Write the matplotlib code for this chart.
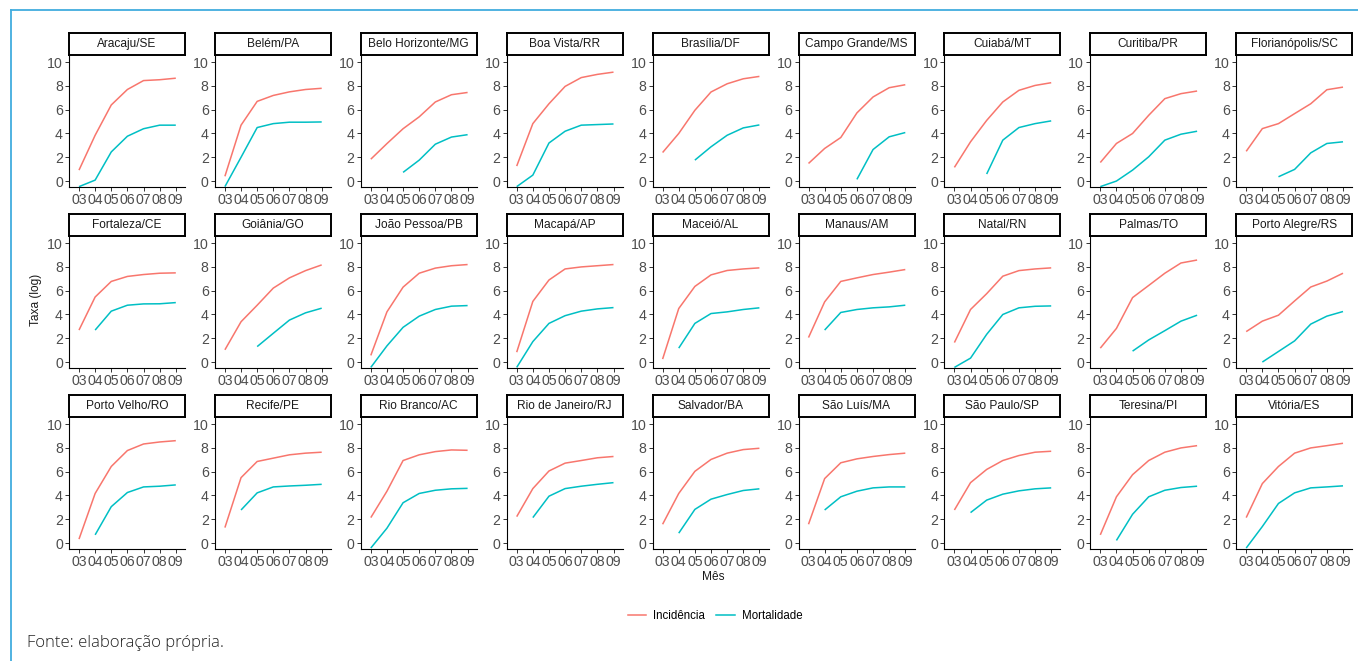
import matplotlib
matplotlib.use("Agg")
import matplotlib.pyplot as plt
from matplotlib.lines import Line2D
import numpy as np

months = ["03", "04", "05", "06", "07", "08", "09"]

cities = ["Aracaju/SE", "Belém/PA", "Belo Horizonte/MG", "Boa Vista/RR", "Brasília/DF",
          "Campo Grande/MS", "Cuiabá/MT", "Curitiba/PR", "Florianópolis/SC",
          "Fortaleza/CE", "Goiânia/GO", "João Pessoa/PB", "Macapá/AP", "Maceió/AL",
          "Manaus/AM", "Natal/RN", "Palmas/TO", "Porto Alegre/RS",
          "Porto Velho/RO", "Recife/PE", "Rio Branco/AC", "Rio de Janeiro/RJ",
          "Salvador/BA", "São Luís/MA", "São Paulo/SP", "Teresina/PI", "Vitória/ES"]

N = None
incidencia = [
    [0.92, 3.85, 6.40, 7.70, 8.45, 8.52, 8.65],
    [0.40, 4.70, 6.70, 7.20, 7.50, 7.70, 7.80],
    [1.84, 3.15, 4.40, 5.40, 6.65, 7.26, 7.45],
    [1.26, 4.83, 6.50, 7.96, 8.70, 8.97, 9.16],
    [2.40, 4.00, 5.95, 7.49, 8.18, 8.60, 8.80],
    [1.48, 2.74, 3.66, 5.73, 7.07, 7.85, 8.10],
    [1.15, 3.30, 5.10, 6.65, 7.63, 8.04, 8.27],
    [1.56, 3.16, 4.00, 5.53, 6.93, 7.35, 7.57],
    [2.50, 4.41, 4.83, 5.67, 6.50, 7.68, 7.90],
    [2.69, 5.47, 6.78, 7.20, 7.36, 7.47, 7.50],
    [1.03, 3.39, 4.78, 6.22, 7.08, 7.69, 8.17],
    [0.56, 4.22, 6.30, 7.47, 7.90, 8.10, 8.20],
    [0.83, 5.10, 6.90, 7.83, 8.00, 8.10, 8.20],
    [0.25, 4.50, 6.36, 7.33, 7.70, 7.83, 7.92],
    [2.06, 5.06, 6.78, 7.08, 7.36, 7.56, 7.78],
    [1.64, 4.42, 5.75, 7.22, 7.69, 7.83, 7.92],
    [1.17, 2.83, 5.42, 6.44, 7.47, 8.33, 8.58],
    [2.56, 3.44, 3.94, 5.14, 6.31, 6.81, 7.47],
    [0.33, 4.17, 6.44, 7.78, 8.33, 8.50, 8.61],
    [1.30, 5.50, 6.86, 7.14, 7.42, 7.56, 7.64],
    [2.14, 4.36, 6.94, 7.42, 7.69, 7.83, 7.80],
    [2.22, 4.58, 6.06, 6.72, 6.94, 7.17, 7.28],
    [1.58, 4.17, 6.03, 7.03, 7.56, 7.86, 7.97],
    [1.58, 5.42, 6.75, 7.08, 7.28, 7.44, 7.56],
    [2.78, 5.08, 6.19, 6.94, 7.36, 7.64, 7.72],
    [0.69, 3.89, 5.75, 6.94, 7.64, 8.00, 8.19],
    [2.14, 5.00, 6.44, 7.56, 8.00, 8.19, 8.39],
]

mortalidade = [
    [-0.47, 0.08, 2.45, 3.77, 4.40, 4.70, 4.70],
    [-0.47, 2.00, 4.50, 4.83, 4.95, 4.95, 4.97],
    [N, N, 0.73, 1.76, 3.10, 3.70, 3.90],
    [-0.47, 0.50, 3.20, 4.19, 4.70, 4.75, 4.80],
    [N, N, 1.76, 2.88, 3.85, 4.47, 4.72],
    [N, N, N, 0.14, 2.65, 3.72, 4.08],
    [N, N, 0.59, 3.44, 4.50, 4.83, 5.06],
    [-0.47, 0.00, 0.92, 2.04, 3.44, 3.94, 4.19],
    [N, N, 0.36, 0.98, 2.37, 3.16, 3.30],
    [N, 2.69, 4.28, 4.78, 4.89, 4.90, 5.00],
    [N, N, 1.30, 2.42, 3.53, 4.14, 4.53],
    [-0.45, 1.36, 2.92, 3.86, 4.42, 4.70, 4.75],
    [-0.45, 1.72, 3.25, 3.90, 4.28, 4.47, 4.58],
    [N, 1.17, 3.25, 4.08, 4.22, 4.42, 4.56],
    [N, 2.69, 4.17, 4.42, 4.56, 4.64, 4.78],
    [-0.45, 0.33, 2.33, 4.00, 4.56, 4.69, 4.72],
    [N, N, 0.92, 1.86, 2.64, 3.44, 3.94],
    [N, 0.00, 0.89, 1.78, 3.19, 3.86, 4.25],
    [N, 0.69, 3.06, 4.25, 4.72, 4.78, 4.89],
    [N, 2.78, 4.22, 4.72, 4.80, 4.86, 4.94],
    [-0.42, 1.25, 3.39, 4.17, 4.44, 4.56, 4.60],
    [N, 2.14, 3.94, 4.58, 4.78, 4.94, 5.08],
    [N, 0.83, 2.83, 3.69, 4.08, 4.42, 4.56],
    [N, 2.78, 3.89, 4.36, 4.64, 4.72, 4.72],
    [N, 2.56, 3.61, 4.11, 4.39, 4.56, 4.64],
    [N, 0.22, 2.42, 3.89, 4.44, 4.67, 4.78],
    [-0.42, 1.39, 3.33, 4.22, 4.64, 4.72, 4.81],
]

series_names = ["Incidência", "Mortalidade"]
colors = ["#F8766D", "#00BFC4"]

W, H = 1358, 661
fig = plt.figure(figsize=(W / 100, H / 100), dpi=100)
plt.rcParams["font.family"] = ["Liberation Sans", "DejaVu Sans"]

tick_color = "#4D4D4D"
x = np.arange(len(months))

col_left0, col_pitch, ax_w = 69, 145.9, 116
row_tops = [55, 236, 417]
ax_h = 132
strip_h = 22

def fx(px):
    return px / W

def fy(py):
    return 1 - py / H

for i, city in enumerate(cities):
    r, c = divmod(i, 9)
    left = col_left0 + c * col_pitch
    top = row_tops[r]
    ax = fig.add_axes([fx(left), fy(top + ax_h), ax_w / W, ax_h / H])
    inc = np.array([np.nan if v is None else v for v in incidencia[i]], dtype=float)
    mort = np.array([np.nan if v is None else v for v in mortalidade[i]], dtype=float)
    ax.plot(x, inc, color=colors[0], lw=1.1, solid_capstyle="butt")
    ax.plot(x, mort, color=colors[1], lw=1.1, solid_capstyle="butt")
    ax.set_xlim(-0.62, 6.57)
    ax.set_ylim(-0.5, 10.6)
    ax.set_yticks([0, 2, 4, 6, 8, 10])
    ax.set_xticks(x)
    ax.set_xticklabels(months)
    for s in ["top", "right"]:
        ax.spines[s].set_visible(False)
    for s in ["left", "bottom"]:
        ax.spines[s].set_color("black")
        ax.spines[s].set_linewidth(0.8)
    ax.tick_params(axis="both", colors="#333333", labelcolor=tick_color,
                   labelsize=10.2, length=3, width=0.7, pad=1.5)
    ax.patch.set_alpha(0)
    # strip
    sax = fig.add_axes([fx(left), fy(top), ax_w / W, strip_h / H])
    sax.set_xticks([])
    sax.set_yticks([])
    for s in sax.spines.values():
        s.set_linewidth(1.4)
        s.set_color("black")
    sax.text(0.5, 0.5, city, ha="center", va="center", fontsize=8.6,
             color="#1A1A1A", transform=sax.transAxes)

fig.text(fx(713), fy(577), "Mês", ha="center", va="center", fontsize=8.6, color="#1A1A1A")
fig.text(fx(36), fy(300), "Taxa (log)", ha="center", va="center", rotation=90,
         fontsize=8.6, color="#1A1A1A")

handles = [Line2D([], [], color=colors[0], lw=1.1), Line2D([], [], color=colors[1], lw=1.1)]
fig.legend(handles, series_names, loc="center", ncol=2, frameon=False,
           bbox_to_anchor=(fx(715), fy(616)), fontsize=8.3, handlelength=1.6,
           columnspacing=1.0, handletextpad=0.6)

fig.text(fx(27), fy(643), "Fonte: elaboração própria.", ha="left", va="center",
         fontsize=12.0, color="#222222", family=["Open Sans", "DejaVu Sans"],
         fontweight="light")

# light blue frame lines
fig.add_artist(Line2D([fx(11), fx(11)], [fy(10), 0], color="#41ADDE", lw=1.3,
                      transform=fig.transFigure))
fig.add_artist(Line2D([fx(11), 1], [fy(10), fy(10)], color="#41ADDE", lw=1.3,
                      transform=fig.transFigure))

fig.savefig("out.png", dpi=100)
